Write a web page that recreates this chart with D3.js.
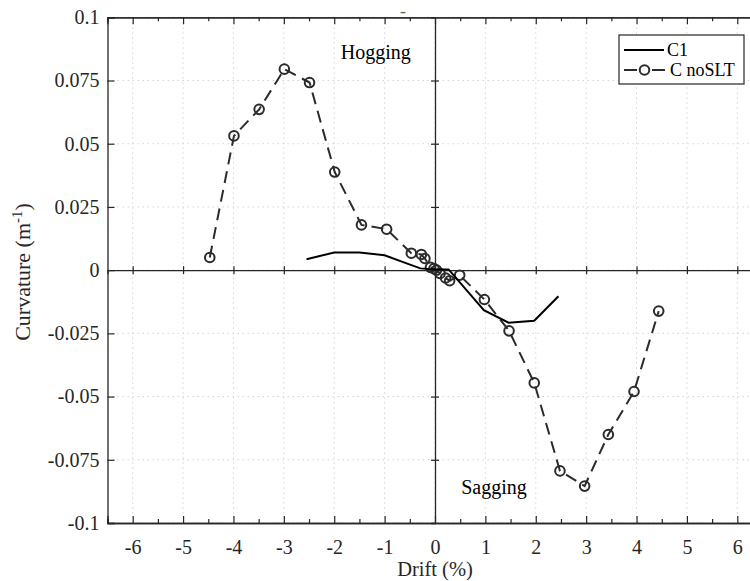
<!DOCTYPE html>
<html>
<head>
<meta charset="utf-8">
<script src="https://cdn.jsdelivr.net/npm/d3@7"></script>
<style>
  html, body { margin: 0; padding: 0; background: #fff; }
  svg { display: block; }
  svg text { font-family: "Liberation Serif", "Times New Roman", serif; }
</style>
</head>
<body>
<svg id="chart" width="750" height="581"></svg>
<script>
// ---- data ----
const driftC1 = [-2.55, -2.0, -1.5, -1.0, -0.55, -0.29, 0.0, 0.27, 0.97, 1.46, 1.97, 2.45];
const curvC1  = [0.0043, 0.0070, 0.0070, 0.0059, 0.0026, 0.0007, 0.0003, 0.0003, -0.0158, -0.0208, -0.0200, -0.0103];

const driftNoSLT = [-4.47, -3.99, -3.49, -2.99, -2.49, -1.99, -1.46, -0.96, -0.47, -0.27, -0.20, -0.09, -0.02, 0.03, 0.10, 0.21, 0.29, 0.49, 0.98, 1.47, 1.97, 2.48, 2.97, 3.44, 3.95, 4.44];
const curvNoSLT  = [0.0050, 0.0531, 0.0636, 0.0795, 0.0742, 0.0388, 0.0179, 0.0162, 0.0067, 0.0062, 0.0046, 0.0011, 0.0006, 0.0000, -0.0013, -0.0031, -0.0042, -0.0020, -0.0116, -0.0240, -0.0446, -0.0794, -0.0854, -0.0650, -0.0480, -0.0162];

const seriesNames = ["C1", "C noSLT"];
const xTicks = [-6, -5, -4, -3, -2, -1, 0, 1, 2, 3, 4, 5, 6];
const xMinorTicks = [-6.5, -5.5, -4.5, -3.5, -2.5, -1.5, -0.5, 0.5, 1.5, 2.5, 3.5, 4.5, 5.5, 6.5];
const yTicks = [-0.1, -0.075, -0.05, -0.025, 0, 0.025, 0.05, 0.075, 0.1];
const yTickLabels = ["-0.1", "-0.075", "-0.05", "-0.025", "0", "0.025", "0.05", "0.075", "0.1"];
const xLabel = "Drift (%)";
const regionLabels = ["Hogging", "Sagging"];

// ---- layout ----
const FONT = "Liberation Serif, Times New Roman, serif";
const L = 107.5, R = 762.5, T = 17.3, B = 523;
const axisColor = "#262626";
const svg = d3.select("#chart");
const x = d3.scaleLinear().domain([-6.5, 6.5]).range([L, R]);
const y = d3.scaleLinear().domain([-0.1, 0.1]).range([B, T]);

svg.append("defs").append("clipPath").attr("id", "clip")
  .append("rect").attr("x", L).attr("y", T).attr("width", R - L).attr("height", B - T);

// grid
const grid = svg.append("g");
grid.selectAll(".gx").data(xTicks).join("line")
  .attr("x1", d => x(d)).attr("x2", d => x(d)).attr("y1", T).attr("y2", B)
  .attr("stroke", "#d4d4d4").attr("stroke-width", 1).attr("stroke-dasharray", "1.5,3.5");
grid.selectAll(".gy").data(yTicks).join("line")
  .attr("y1", d => y(d)).attr("y2", d => y(d)).attr("x1", L).attr("x2", R)
  .attr("stroke", "#d4d4d4").attr("stroke-width", 1).attr("stroke-dasharray", "1.5,3.5");

// box axes (left, top, bottom) using d3 axes
const bottomAxis = svg.append("g").attr("transform", `translate(0,${B})`)
  .call(d3.axisBottom(x).tickValues(xTicks).tickSize(-7).tickFormat(d => d));
bottomAxis.attr("font-family", FONT);
bottomAxis.selectAll("text").attr("dy", null).attr("y", 31).attr("font-size", 20).attr("fill", axisColor)
  .attr("font-family", FONT);
const bottomMinor = svg.append("g").attr("transform", `translate(0,${B})`)
  .call(d3.axisBottom(x).tickValues(xMinorTicks).tickSize(-4).tickFormat(""));

const topAxis = svg.append("g").attr("transform", `translate(0,${T})`)
  .call(d3.axisTop(x).tickValues(xTicks).tickSize(-7).tickFormat(""));
const topMinor = svg.append("g").attr("transform", `translate(0,${T})`)
  .call(d3.axisTop(x).tickValues(xMinorTicks).tickSize(-4).tickFormat(""));

const leftAxis = svg.append("g").attr("transform", `translate(${L},0)`)
  .call(d3.axisLeft(y).tickValues(yTicks).tickSize(-7).tickPadding(8)
    .tickFormat((d, i) => yTickLabels[i]));
leftAxis.attr("font-family", FONT);
leftAxis.selectAll("text").attr("font-size", 20).attr("fill", axisColor).attr("font-family", FONT);

[bottomAxis, bottomMinor, topAxis, topMinor, leftAxis].forEach(g => {
  g.selectAll(".domain").attr("stroke", axisColor).attr("stroke-width", 1.3);
  g.selectAll(".tick line").attr("stroke", axisColor).attr("stroke-width", 1.2);
});

// zero axes with crossing ticks
const zeroH = svg.append("g").attr("transform", `translate(0,${y(0)})`)
  .call(d3.axisBottom(x).tickValues(xTicks.filter(d => d !== 0)).tickSize(4).tickFormat(""));
zeroH.selectAll(".tick line").attr("y1", -4).attr("y2", 4);
const zeroV = svg.append("g").attr("transform", `translate(${x(0)},0)`)
  .call(d3.axisLeft(y).tickValues(yTicks.filter(d => d !== 0 && Math.abs(d) < 0.1)).tickSize(4).tickFormat(""));
zeroV.selectAll(".tick line").attr("x1", -4).attr("x2", 4);
[zeroH, zeroV].forEach(g => {
  g.selectAll(".domain").attr("stroke", axisColor).attr("stroke-width", 1.3);
  g.selectAll(".tick line").attr("stroke", axisColor).attr("stroke-width", 1.2);
});

// data
const plot = svg.append("g").attr("clip-path", "url(#clip)");
const line = d3.line().x(d => x(d[0])).y(d => y(d[1]));

const c1 = driftC1.map((d, i) => [d, curvC1[i]]);
const ns = driftNoSLT.map((d, i) => [d, curvNoSLT[i]]);

plot.append("path").datum(ns).attr("d", line)
  .attr("fill", "none").attr("stroke", "#2b2b2b").attr("stroke-width", 2)
  .attr("stroke-dasharray", "12,7");
plot.selectAll(".pt").data(ns).join("circle")
  .attr("cx", d => x(d[0])).attr("cy", d => y(d[1])).attr("r", 4.8)
  .attr("fill", "none").attr("stroke", "#2b2b2b").attr("stroke-width", 2);

plot.append("path").datum(c1).attr("d", line)
  .attr("fill", "none").attr("stroke", "#000").attr("stroke-width", 2);

// region labels
svg.append("text").attr("x", x(-1.87)).attr("y", y(0.0835)).text(regionLabels[0])
  .attr("font-family", FONT).attr("font-size", 20).attr("fill", "#000");
svg.append("text").attr("x", x(0.52)).attr("y", y(-0.0885)).text(regionLabels[1])
  .attr("font-family", FONT).attr("font-size", 20).attr("fill", "#000");

// top stray dash (empty title)
svg.append("text").attr("x", 403).attr("y", 17).attr("text-anchor", "middle")
  .attr("font-family", FONT).attr("font-size", 18).attr("fill", "#666").text("-");

// axis labels
svg.append("text").attr("x", x(0)).attr("y", 576).attr("text-anchor", "middle")
  .attr("font-family", FONT).attr("font-size", 20.5).attr("fill", axisColor).text(xLabel);
const yl = svg.append("text").attr("transform", "translate(30,272) rotate(-90)")
  .attr("text-anchor", "middle").attr("font-family", FONT).attr("font-size", 22).attr("fill", axisColor);
yl.append("tspan").text("Curvature (m");
yl.append("tspan").attr("dy", -8).attr("font-size", 15).text("-1");
yl.append("tspan").attr("dy", 8).text(")");

// legend
const lg = svg.append("g");
lg.append("rect").attr("x", 619).attr("y", 35).attr("width", 125).attr("height", 49)
  .attr("fill", "#fff").attr("stroke", axisColor).attr("stroke-width", 1.2);
lg.append("line").attr("x1", 624).attr("x2", 664).attr("y1", 50).attr("y2", 50)
  .attr("stroke", "#000").attr("stroke-width", 2);
lg.append("text").attr("x", 667).attr("y", 56).attr("font-family", FONT).attr("font-size", 18).attr("fill", "#000").text(seriesNames[0]);
lg.append("line").attr("x1", 624).attr("x2", 665).attr("y1", 70).attr("y2", 70)
  .attr("stroke", "#2b2b2b").attr("stroke-width", 2).attr("stroke-dasharray", "13,15");
lg.append("circle").attr("cx", 644.5).attr("cy", 70).attr("r", 4.8)
  .attr("fill", "none").attr("stroke", "#2b2b2b").attr("stroke-width", 2);
lg.append("text").attr("x", 670).attr("y", 76).attr("font-family", FONT).attr("font-size", 18).attr("fill", "#000").text(seriesNames[1]);
</script>
</body>
</html>
